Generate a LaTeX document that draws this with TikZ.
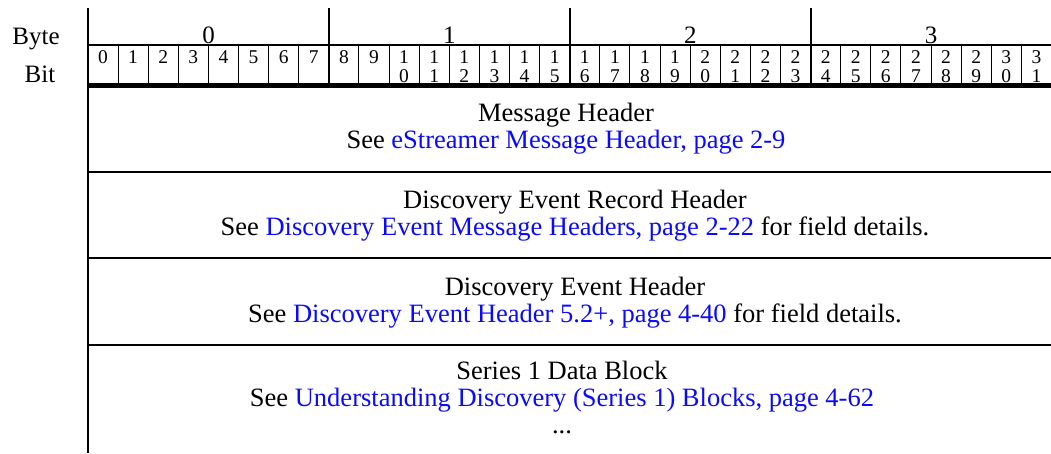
\documentclass[tikz,border=0pt]{standalone}
\usepackage{fontspec}
\setmainfont{Liberation Serif}
\usetikzlibrary{positioning}
\definecolor{linkblue}{RGB}{10,10,250}
\newcommand{\xref}[1]{\textcolor{linkblue}{#1}}

\begin{document}
\begin{tikzpicture}[x=1pt, y=-1pt, >=latex,
  every node/.style={inner sep=0pt, font=\fontsize{25}{27}\selectfont},
  rowtxt/.style={align=center, anchor=base, font=\fontsize{26.5}{27}\selectfont},
  bitlbl/.style={align=center, anchor=base, font=\fontsize{19.5}{19}\selectfont},
  rule/.style={line width=2pt},
  hairline/.style={line width=1pt}]
  \useasboundingbox (0,0) rectangle (1051,453);
  % labels on the left
  \node[anchor=base] (byte) at (36,44) {Byte};
  \node[anchor=base] (bit) at (40,82) {Bit};
  % frame of the header
  \draw[rule] (88,8) -- (88,453);
  \draw[rule] (88,45) -- (1051,45);
  \foreach \b in {0,...,3} {
    \ifnum\b>0 \draw[rule] (88+240.9*\b,8) -- ++(0,77); \fi
    \node[anchor=base] (byte\b) at (208.5+240.9*\b,43) {\b};
  }
  % bit cells
  \foreach \i in {0,...,31} {
    \pgfmathtruncatemacro\hi{\i/10}
    \pgfmathtruncatemacro\lo{mod(\i,10)}
    \ifnum\i>0 \draw[hairline] (88+30.11*\i,45) -- ++(0,40); \fi
    \ifnum\i<10
      \node[bitlbl] (bit\i) at (103+30.11*\i,63) {\i};
    \else
      \node[bitlbl] (bit\i) at (103+30.11*\i,82) {\hi\\\lo};
    \fi
  }
  \draw[line width=5pt] (87,85) -- (1051,85);
  % rows of the record
  \foreach \y in {172,258,345} \draw[rule] (88,\y) -- (1051,\y);
  \node[rowtxt] (hdr) at (566,148)
    {Message Header\\See \xref{eStreamer Message Header, page 2-9}};
  \node[rowtxt] (rechdr) at (575,235)
    {Discovery Event Record Header\\See \xref{Discovery Event Message Headers, page 2-22} for field details.};
  \node[rowtxt] (evthdr) at (575,322)
    {Discovery Event Header\\See \xref{Discovery Event Header 5.2+, page 4-40} for field details.};
  \node[rowtxt] (blk) at (562,433)
    {Series 1 Data Block\\See \xref{Understanding Discovery (Series 1) Blocks, page 4-62}\\...};
\end{tikzpicture}
\end{document}
